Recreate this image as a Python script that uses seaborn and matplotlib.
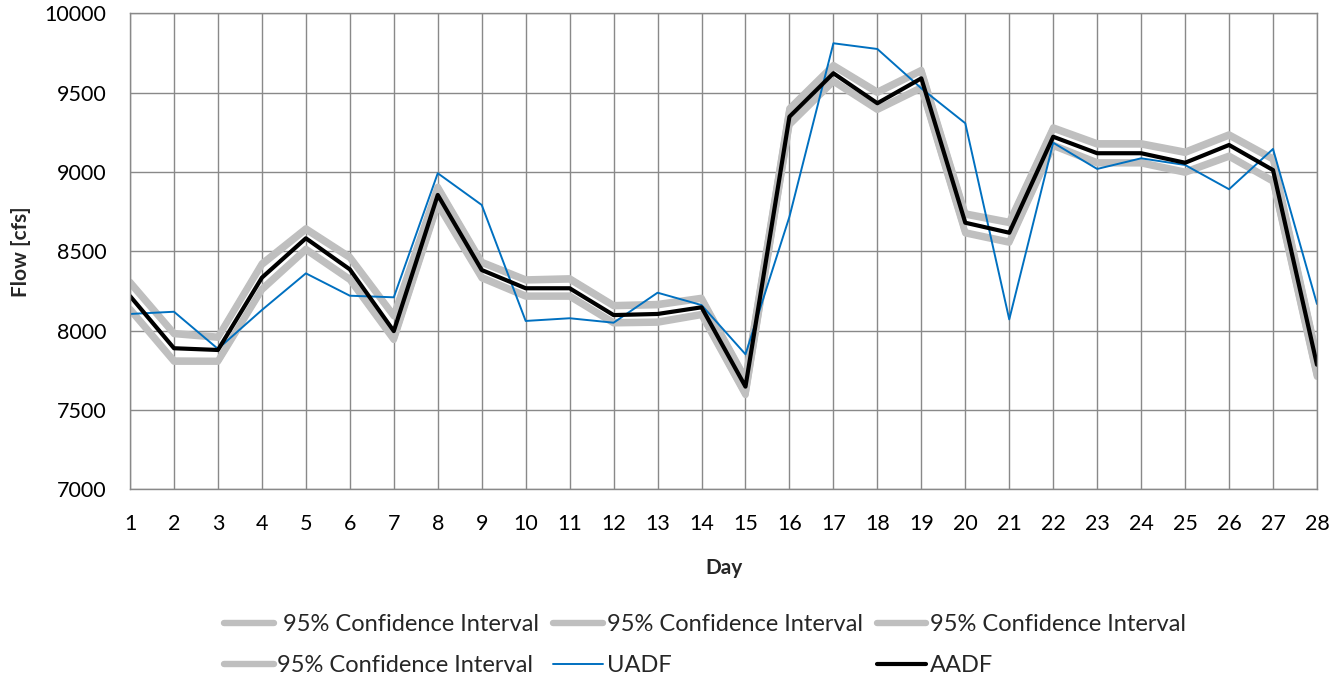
import matplotlib
matplotlib.use("Agg")
import matplotlib.pyplot as plt
import seaborn as sns
import numpy as np
import pandas as pd

# values
days = list(range(1, 29))

aadf = [8218, 7889, 7878, 8334, 8582, 8386, 7997, 8855, 8382, 8267,
        8267, 8098, 8105, 8147, 7647, 9348, 9622, 9433, 9590, 8680,
        8617, 9222, 9118, 9118, 9058, 9170, 9012, 7785]

uadf = [8105, 8119, 7885, 8130, 8361, 8220, 8210, 8992, 8792, 8061,
        8078, 8050, 8239, 8161, 7851, 8718, 9811, 9775, 9527, 9307,
        8071, 9184, 9019, 9086, 9044, 8891, 9145, 8168]

ci_upper_1 = [8308, 7985, 7962, 8424, 8645, 8466, 8098, 8907, 8434, 8323,
              8330, 8161, 8168, 8207, 7700, 9401, 9674, 9506, 9643, 8739,
              8686, 9281, 9181, 9181, 9128, 9237, 9086, 7840]
ci_upper_2 = [8298, 7978, 7955, 8414, 8636, 8458, 8090, 8900, 8427, 8316,
              8322, 8154, 8160, 8200, 7694, 9394, 9666, 9498, 9636, 8731,
              8678, 9273, 9173, 9173, 9120, 9229, 9078, 7832]
ci_lower_1 = [8138, 7812, 7810, 8264, 8516, 8326, 7949, 8800, 8338, 8221,
              8221, 8053, 8057, 8105, 7600, 9303, 9576, 9398, 9534, 8620,
              8561, 9171, 9061, 9061, 9002, 9103, 8946, 7716]
ci_lower_2 = [8130, 7804, 7804, 8256, 8508, 8319, 7941, 8792, 8330, 8214,
              8214, 8046, 8050, 8098, 7594, 9296, 9569, 9391, 9527, 8613,
              8554, 9164, 9054, 9054, 8995, 9096, 8939, 7709]

ci_label = "95% Confidence Interval"
gray = "#bfbfbf"

sns.set_style("white")
plt.rcParams['font.family'] = ['Lato', 'DejaVu Sans']

fig = plt.figure(figsize=(13.35, 6.85), dpi=100)
ax = fig.add_axes([0.0974, 0.2857, 0.8891, 0.6949])

sns.lineplot(x=days, y=ci_upper_1, ax=ax, color=gray, linewidth=4.6, label=" " + ci_label)
sns.lineplot(x=days, y=ci_upper_2, ax=ax, color=gray, linewidth=4.6, label=ci_label)
sns.lineplot(x=days, y=ci_lower_1, ax=ax, color=gray, linewidth=4.6, label=ci_label)
sns.lineplot(x=days, y=ci_lower_2, ax=ax, color=gray, linewidth=4.6, label=ci_label)
sns.lineplot(x=days, y=uadf, ax=ax, color="#0070c0", linewidth=1.4, label="UADF")
sns.lineplot(x=days, y=aadf, ax=ax, color="black", linewidth=3.0, label="AADF")

ax.set_xlim(1, 28)
ax.set_ylim(7000, 10000)
ax.set_xticks(days)
ax.set_yticks(range(7000, 10001, 500))
ax.grid(True, color="#898989", linewidth=1.0)
ax.set_axisbelow(True)
for s in ax.spines.values():
    s.set_color("#898989")
    s.set_linewidth(1.0)
ax.tick_params(axis="both", length=6, width=1.0, color="#898989",
               labelsize=15.5, labelcolor="black")
ax.tick_params(axis="x", pad=12)
ax.tick_params(axis="y", pad=11)

ax.set_xlabel("Day", fontsize=15, fontweight="bold", labelpad=17)
ax.set_ylabel("Flow [cfs]", fontsize=15, fontweight="bold", labelpad=10)

# legend is filled column by column, so reorder to read row by row
h, l = ax.get_legend_handles_labels()
order = [0, 3, 1, 4, 2, 5]
ax.legend([h[i] for i in order], [l[i] for i in order], ncol=3,
          loc="center", bbox_to_anchor=(705 / 1335, 0.058),
          bbox_transform=fig.transFigure, frameon=False,
          fontsize=17, handlelength=2.1, handletextpad=0.15,
          columnspacing=0.6, labelspacing=0.85)

fig.savefig("out.png", dpi=100)
